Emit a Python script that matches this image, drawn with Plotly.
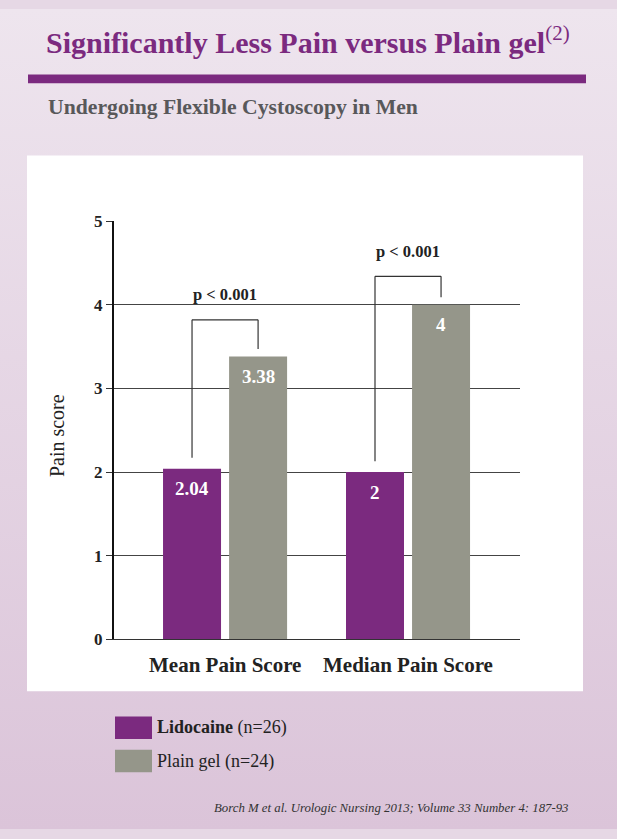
import base64
import plotly.graph_objects as go

# ---- data ----
categories = ["Mean Pain Score", "Median Pain Score"]
lidocaine = [2.04, 2]
plain_gel = [3.38, 4]
lidocaine_labels = ["2.04", "2"]
plain_gel_labels = ["3.38", "4"]
series_names = ["Lidocaine", "Plain gel"]
series_n = ["(n=26)", "(n=24)"]
bracket_tops = [3.82, 4.34]
p_labels = ["p < 0.001", "p < 0.001"]
y_ticks = [0, 1, 2, 3, 4, 5]

W, H = 617, 839
PURPLE = "#7b2a7f"
GREY = "#95968a"
FONT = "Liberation Serif"

def px(x):
    return x / W

def py(y):
    return 1 - y / H

# plot area in pixels
X0, X1 = 114, 520
Y_TOP, Y_BOT = 217, 645
XR = [-0.607, 1.612]
px_per_unit = (X1 - X0) / (XR[1] - XR[0])

BAR_W = 0.317
OFF_L = -0.339
OFF_R = 0.022
cL = OFF_L + BAR_W / 2
cR = OFF_R + BAR_W / 2

fig = go.Figure()
fig.add_trace(go.Bar(x=categories, y=lidocaine, name=series_names[0],
                     marker=dict(color=PURPLE, line=dict(width=0)),
                     width=BAR_W, offset=OFF_L, showlegend=False, hoverinfo="skip"))
fig.add_trace(go.Bar(x=categories, y=plain_gel, name=series_names[1],
                     marker=dict(color=GREY, line=dict(width=0)),
                     width=BAR_W, offset=OFF_R, showlegend=False, hoverinfo="skip"))

annotations = []
shapes = []

# background gradient
svg = ('<svg xmlns="http://www.w3.org/2000/svg" width="617" height="839" preserveAspectRatio="none">'
       '<defs><linearGradient id="g" x1="0" y1="0" x2="0" y2="1">'
       '<stop offset="0" stop-color="#eee5ee"/><stop offset="1" stop-color="#dbc4d9"/>'
       '</linearGradient></defs><rect width="617" height="839" fill="url(#g)"/></svg>')
src = "data:image/svg+xml;base64," + base64.b64encode(svg.encode()).decode()
images = [dict(source=src, xref="paper", yref="paper", x=0, y=1, sizex=1, sizey=1,
               xanchor="left", yanchor="top", sizing="stretch", layer="below")]

# white panel
shapes.append(dict(type="rect", xref="paper", yref="paper", x0=px(27), x1=px(583),
                   y0=py(698), y1=py(150), fillcolor="white", line=dict(width=0), layer="below"))
# purple rule
shapes.append(dict(type="rect", xref="paper", yref="paper", x0=px(28), x1=px(586),
                   y0=py(76), y1=py(67), fillcolor=PURPLE, line=dict(width=0), layer="above"))

# title & subtitle
annotations.append(dict(text="<b>Significantly Less Pain versus Plain gel</b><sup>(2)</sup>",
                        xref="paper", yref="paper", x=px(44), y=py(32), xanchor="left", yanchor="middle",
                        showarrow=False, font=dict(family=FONT, size=30, color=PURPLE)))
annotations.append(dict(text="<b>Undergoing Flexible Cystoscopy in Men</b>",
                        xref="paper", yref="paper", x=px(46), y=py(100), xanchor="left", yanchor="middle",
                        showarrow=False, font=dict(family=FONT, size=21.7, color="#58585a")))

# y axis title
annotations.append(dict(text="Pain score", xref="paper", yref="paper", x=px(57), y=py(437),
                        xanchor="center", yanchor="middle", textangle=-90, showarrow=False,
                        font=dict(family=FONT, size=20, color="#222")))

# category labels
for i, c in enumerate(categories):
    annotations.append(dict(text=c, x=i, xref="x", yref="paper", y=py(671),
                            xanchor="center", yanchor="middle", showarrow=False,
                            font=dict(family=FONT, size=21, color="#222", weight="bold")))

# value labels inside bars
for i in range(len(categories)):
    for vals, labs, c in ((lidocaine, lidocaine_labels, cL), (plain_gel, plain_gel_labels, cR)):
        annotations.append(dict(text=labs[i], x=i, y=vals[i], xref="x", yref="y",
                                xshift=c * px_per_unit, yshift=-20, xanchor="center", yanchor="middle",
                                showarrow=False,
                                font=dict(family=FONT, size=19, color="white", weight="bold")))

# significance brackets
for i in range(len(categories)):
    top = bracket_tops[i]
    xl, xr = i + cL, i + cR
    line = dict(color="#333", width=1.2)
    shapes.append(dict(type="line", xref="x", yref="y", x0=xl, x1=xl, y0=lidocaine[i] + 0.13, y1=top, line=line))
    shapes.append(dict(type="line", xref="x", yref="y", x0=xl, x1=xr, y0=top, y1=top, line=line))
    shapes.append(dict(type="line", xref="x", yref="y", x0=xr, x1=xr, y0=plain_gel[i] + 0.09, y1=top, line=line))
    annotations.append(dict(text=p_labels[i], x=i + (cL + cR) / 2, y=top, xref="x", yref="y",
                            yshift=25, xanchor="center", yanchor="middle", showarrow=False,
                            font=dict(family=FONT, size=16.5, color="#222", weight="bold")))

# legend
colors = [PURPLE, GREY]
leg_rows = [(724, 747), (758, 781)]
for k in range(2):
    t, b = leg_rows[k]
    shapes.append(dict(type="rect", xref="paper", yref="paper", x0=px(115), x1=px(152),
                       y0=py(b), y1=py(t), fillcolor=colors[k], line=dict(width=0)))
    name = "<b>%s</b>" % series_names[k] if k == 0 else series_names[k]
    annotations.append(dict(text="%s %s" % (name, series_n[k]), xref="paper", yref="paper",
                            x=px(155), y=py((t + b) / 2), xanchor="left", yanchor="middle",
                            showarrow=False, font=dict(family=FONT, size=18, color="#222")))

# footer
annotations.append(dict(text="<i>Borch M et al. Urologic Nursing 2013; Volume 33 Number 4: 187-93</i>",
                        xref="paper", yref="paper", x=px(571), y=py(818), xanchor="right", yanchor="middle",
                        showarrow=False, font=dict(family=FONT, size=12.8, color="#333")))

fig.update_layout(
    width=W, height=H, autosize=False,
    margin=dict(l=0, r=0, t=0, b=0, pad=0),
    paper_bgcolor="#e6d8e5", plot_bgcolor="rgba(0,0,0,0)",
    barmode="overlay",
    images=images, shapes=shapes, annotations=annotations,
    xaxis=dict(domain=[px(X0), px(X1)], range=XR, type="category", showgrid=False,
               showline=True, linecolor="#333", linewidth=1.3, ticks="", zeroline=False,
               showticklabels=False),
    yaxis=dict(domain=[py(Y_BOT), py(Y_TOP)], range=[0, 5], tickvals=y_ticks,
               showgrid=True, gridcolor="#444", gridwidth=1.2, zeroline=False,
               showline=True, linecolor="#111", linewidth=2,
               ticks="outside", ticklen=6, tickcolor="#333", tickwidth=1.3,
               tickfont=dict(family=FONT, size=17, color="#222", weight="bold")),
    font=dict(family=FONT),
)

fig.write_html("out.html")
